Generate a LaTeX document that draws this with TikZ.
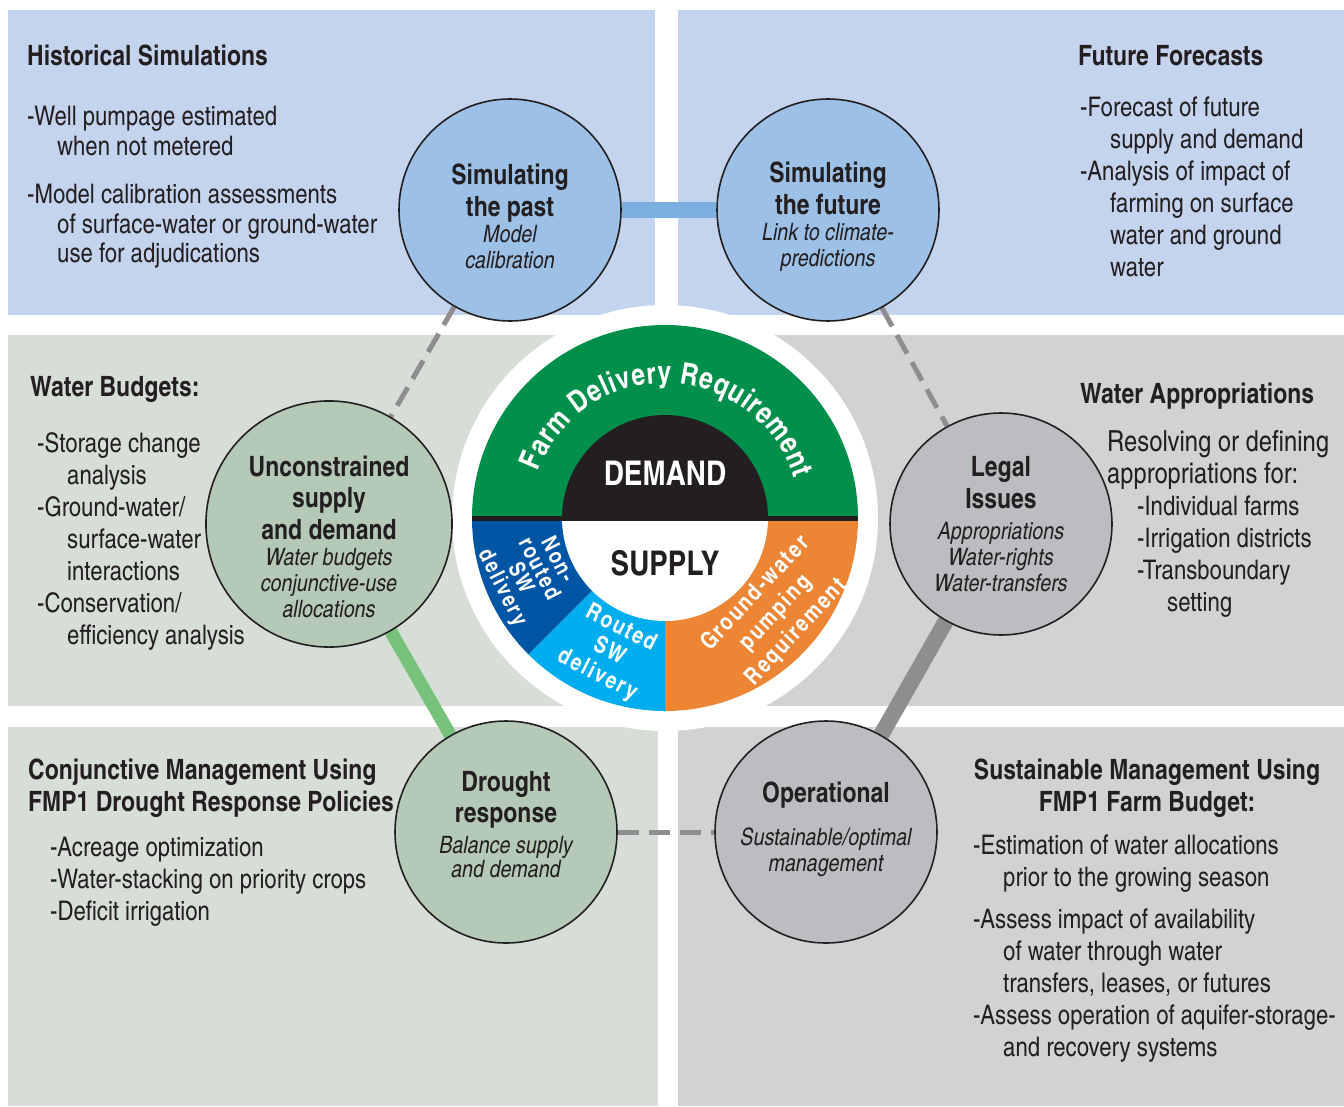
\documentclass[tikz,border=0pt]{standalone}
\usepackage{fontspec}
\setmainfont{texgyreheroscn}[Extension=.otf,UprightFont=*-regular,BoldFont=*-bold,ItalicFont=*-italic,BoldItalicFont=*-bolditalic]
\newfontfamily\SegFont{texgyreheroscn}[Extension=.otf,UprightFont=*-bold,BoldFont=*-bold,LetterSpace=8]
\usepackage{tikz}
\usetikzlibrary{calc}
\usetikzlibrary{decorations.text}
\definecolor{inkblack}{HTML}{231F20}
\definecolor{panelblue}{HTML}{C5D4EE}
\definecolor{panelgreen}{HTML}{D6DED7}
\definecolor{panelgray}{HTML}{D1D2D4}
\definecolor{hubblue}{HTML}{9DC0E6}
\definecolor{hubgreen}{HTML}{B5CAB6}
\definecolor{hubgray}{HTML}{BCBDC0}
\definecolor{linkblue}{HTML}{7AAFDF}
\definecolor{linkgreen}{HTML}{77C27B}
\definecolor{linkgray}{HTML}{8E8E90}
\definecolor{fdrgreen}{HTML}{00904C}
\definecolor{swdark}{HTML}{0055A5}
\definecolor{swlight}{HTML}{00AEEF}
\definecolor{gworange}{HTML}{EC8534}
\newcommand{\Ind}{\hspace*{30pt}}
\newcommand{\HubTitle}[1]{{\fontsize{28}{32}\selectfont\bfseries #1}}
\newcommand{\HubNote}[1]{{\fontsize{24}{26}\selectfont\itshape #1}}
\newcommand{\BigLine}[1]{{\fontsize{29}{32}\selectfont #1}}
\pgfdeclarelayer{panels}
\pgfdeclarelayer{links}
\pgfsetlayers{panels,links,main}

\begin{document}
\begin{tikzpicture}[x=1pt,y=1pt
    ,hub/.style = {circle, draw=inkblack, line width=1.6pt, minimum size=222pt, inner sep=0pt, align=center, text=inkblack, font=\fontsize{24}{26}\selectfont}
    ,heading/.style = {inner sep=0pt, align=left, text=inkblack, font=\fontsize{28}{32}\selectfont\bfseries}
    ,listing/.style = {anchor=north west, inner sep=0pt, align=left, text=inkblack, font=\fontsize{27}{32}\selectfont}
    ,link/.style = {line width=16pt}
    ,dashlink/.style = {line width=5pt, linkgray, dash pattern=on 21pt off 10pt}
    ,segment/.style = {text=white, align=center, inner sep=0pt, font=\SegFont\fontsize{23.5}{26}\selectfont}
  ]
  \useasboundingbox (0,0) rectangle (1344,-1106);

  % panels
  \begin{pgfonlayer}{panels}
    \fill[white] (0,0) rectangle (1344,-1106);
    \fill[panelblue] (8,-10) rectangle (655,-315);
    \fill[panelblue] (678,-10) rectangle (1344,-315);
    \fill[panelgreen] (8,-335) rectangle (665,-706);
    \fill[panelgray] (665,-335) rectangle (1344,-706);
    \fill[panelgreen] (8,-727) rectangle (658,-1106);
    \fill[panelgray] (678,-727) rectangle (1344,-1106);
    \fill[white] (665,-518) circle[radius=213];
  \end{pgfonlayer}

  % demand / supply disc
  \coordinate (core) at (665,-518);
  \fill[fdrgreen] (core) ++(0:193) arc[start angle=0, end angle=180, radius=193] -- cycle;
  \fill[swdark] (core) -- ++(180:193) arc[start angle=180, end angle=225, radius=193] -- cycle;
  \fill[swlight] (core) -- ++(225:193) arc[start angle=225, end angle=270, radius=193] -- cycle;
  \fill[gworange] (core) -- ++(270:193) arc[start angle=270, end angle=360, radius=193] -- cycle;
  \fill[inkblack] (core) ++(0:103) arc[start angle=0, end angle=180, radius=103] -- cycle;
  \fill[white] (core) ++(180:103) arc[start angle=180, end angle=360, radius=103] -- cycle;
  \draw[inkblack, line width=5pt] (core) ++(-193,0) -- ++(386,0);
  \path[decorate, decoration={text along path, text color=white, text align={fit to path}
      , text={|\fontsize{30}{32}\selectfont\bfseries|Farm Delivery Requirement}}]
    (core) ++(160:135) arc[start angle=160, end angle=17, radius=135];

  \node[text=white, font=\fontsize{34}{40}\selectfont\bfseries] (demand) at (665,-473) {DEMAND};
  \node[text=inkblack, font=\fontsize{34}{40}\selectfont\bfseries] (supply) at (665,-563) {SUPPLY};
  \node[segment, rotate=-63, font=\SegFont\fontsize{22.5}{20.5}\selectfont] (nonrouted) at (529,-574) {Non-\\routed\\SW\\delivery};
  \node[segment, rotate=-27] (routed) at (609,-652) {Routed\\SW\\delivery};
  \node[segment, rotate=47, font=\SegFont\fontsize{23.5}{28}\selectfont] (pumping) at (776,-613) {Ground-water\\pumping\\Requirement};

  % hubs
  \node[hub, fill=hubblue] (past) at (510,-210) {\HubTitle{\rule{0pt}{34pt}Simulating}\\[5pt]\HubTitle{the past}\\\HubNote{Model}\\\HubNote{calibration}};
  \node[hub, fill=hubblue] (future) at (828,-210) {\HubTitle{\rule{0pt}{34pt}Simulating}\\[5pt]\HubTitle{the future}\\\HubNote{Link to climate-}\\\HubNote{predictions}};
  \node[hub, fill=hubgreen] (unconstr) at (329,-524) {\HubTitle{\rule{0pt}{46pt}Unconstrained}\\[5pt]\HubTitle{supply}\\[5pt]\HubTitle{and demand}\\\HubNote{Water budgets}\\\HubNote{conjunctive-use}\\\HubNote{allocations}};
  \node[hub, fill=hubgray] (legal) at (1001,-524) {\HubTitle{Legal}\\[5pt]\HubTitle{Issues}\\[5pt]\HubNote{Appropriations}\\\HubNote{Water-rights}\\\HubNote{Water-transfers}};
  \node[hub, fill=hubgreen] (drought) at (506,-832) {\HubTitle{Drought}\\[5pt]\HubTitle{response}\\[5pt]\HubNote{Balance supply}\\[-2pt]\HubNote{and demand\rule[-15pt]{0pt}{15pt}}};
  \node[hub, fill=hubgray] (oper) at (826,-832) {\HubTitle{Operational}\\[17pt]\HubNote{Sustainable/optimal}\\\HubNote{management\rule[-11pt]{0pt}{11pt}}};

  \begin{pgfonlayer}{links}
    \draw[link, linkblue] (past) -- (future);
    \draw[dashlink] (past) -- (unconstr);
    \draw[dashlink] (future) -- (legal);
    \draw[link, linkgreen, line width=13pt] (unconstr) -- (drought);
    \draw[link, linkgray] (legal) -- (oper);
    \draw[dashlink] (drought) -- (oper);
  \end{pgfonlayer}

  % panel texts
  \node[heading, anchor=base west] (histhead) at (27,-65) {Historical Simulations};
  \node[listing, font=\fontsize{27}{29.5}\selectfont] (histlist) at (27,-106) {-Well pumpage estimated\\\Ind when not metered\\[19pt]-Model calibration assessments\\\Ind of surface-water or ground-water\\\Ind use for adjudications};
  \node[heading, anchor=base west] (futhead) at (1078,-65) {Future Forecasts};
  \node[listing] (futlist) at (1080,-97) {-Forecast of future\\\Ind supply and demand\\-Analysis of impact of\\\Ind farming on surface\\\Ind water and ground\\\Ind water};
  \node[heading, anchor=base west] (budgethead) at (30,-396) {Water Budgets:};
  \node[listing] (budgetlist) at (37,-432) {-Storage change\\\Ind analysis\\-Ground-water/\\\Ind surface-water\\\Ind interactions\\-Conservation/\\\Ind efficiency analysis};
  \node[heading, anchor=base west] (righthead) at (1080,-403) {Water Appropriations};
  \node[listing] (rightlist) at (1107,-430) {\BigLine{Resolving or defining}\\\BigLine{appropriations for:}\\\Ind -Individual farms\\\Ind -Irrigation districts\\\Ind -Transboundary\\\Ind\Ind setting};
  \node[heading, anchor=north west] (conjhead) at (28,-759) {Conjunctive Management Using\\FMP1 Drought Response Policies};
  \node[listing] (conjlist) at (50,-837) {-Acreage optimization\\-Water-stacking on priority crops\\-Deficit irrigation};
  \node[heading, anchor=north, align=center] (susthead) at (1147,-759) {Sustainable Management Using\\FMP1 Farm Budget:};
  \node[listing] (sustlist) at (973,-835) {-Estimation of water allocations\\\Ind prior to the growing season\\[10pt]-Assess impact of availability\\\Ind of water through water\\\Ind transfers, leases, or futures\\-Assess operation of aquifer-storage-\\\Ind and recovery systems};
\end{tikzpicture}
\end{document}
